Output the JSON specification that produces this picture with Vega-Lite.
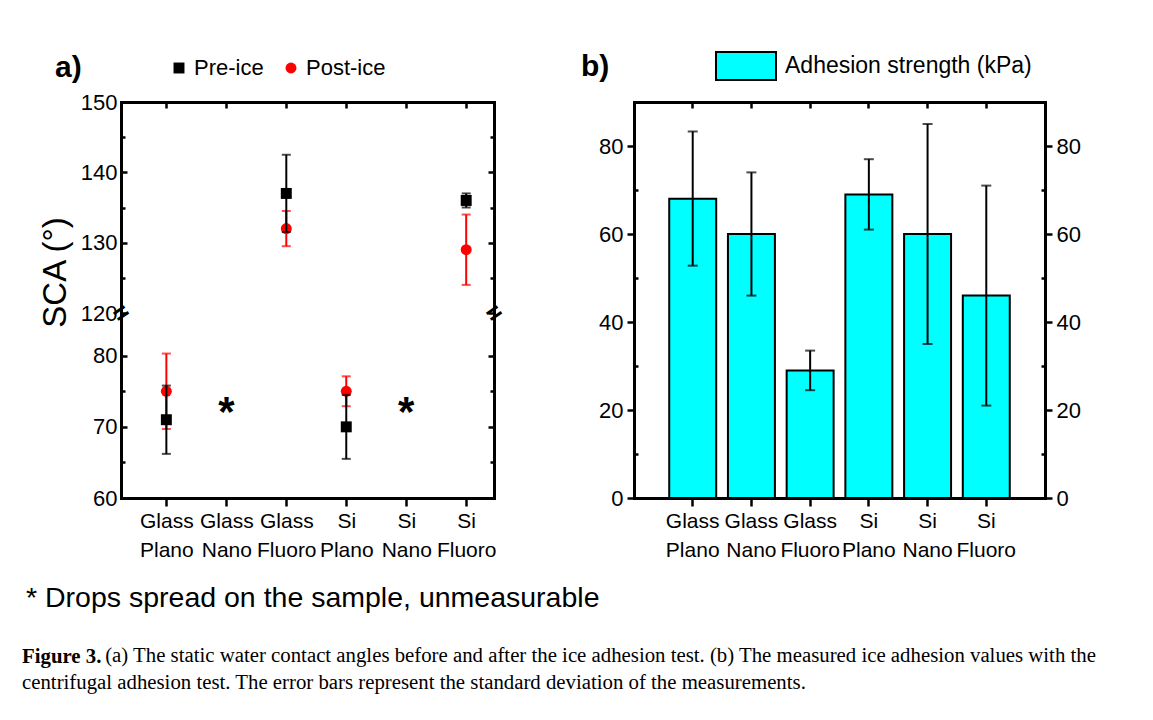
{
  "$schema": "https://vega.github.io/schema/vega-lite/v6.json",
  "background": "white",
  "padding": {"left": 22, "top": 50, "right": 0, "bottom": 0},
  "datasets": {
    "sca": [
      {"sample": "Glass Plano", "condition": "Pre-ice", "value": 71, "lo": 66.2, "hi": 75.8},
      {"sample": "Glass Fluoro", "condition": "Pre-ice", "value": 137, "lo": 131.5, "hi": 142.5},
      {"sample": "Si Plano", "condition": "Pre-ice", "value": 70, "lo": 65.5, "hi": 74.5},
      {"sample": "Si Fluoro", "condition": "Pre-ice", "value": 136, "lo": 135, "hi": 137},
      {"sample": "Glass Plano", "condition": "Post-ice", "value": 75, "lo": 69.7, "hi": 80.3},
      {"sample": "Glass Fluoro", "condition": "Post-ice", "value": 132, "lo": 129.5, "hi": 134.5},
      {"sample": "Si Plano", "condition": "Post-ice", "value": 75, "lo": 72.9, "hi": 77.1},
      {"sample": "Si Fluoro", "condition": "Post-ice", "value": 129, "lo": 124, "hi": 134}
    ],
    "spread": [
      {"sample": "Glass Nano", "value": 73.3},
      {"sample": "Si Nano", "value": 73.3}
    ],
    "adhesion": [
      {"sample": "Glass Plano", "value": 68, "lo": 52.8, "hi": 83.3},
      {"sample": "Glass Nano", "value": 60, "lo": 46, "hi": 74},
      {"sample": "Glass Fluoro", "value": 29, "lo": 24.5, "hi": 33.5},
      {"sample": "Si Plano", "value": 69, "lo": 61, "hi": 77},
      {"sample": "Si Nano", "value": 60, "lo": 35, "hi": 85},
      {"sample": "Si Fluoro", "value": 46, "lo": 21, "hi": 71}
    ]
  },
  "title": {
    "text": "Figure 3.",
    "subtitle": ["\u200b\u00a0\u00a0\u00a0\u00a0\u00a0\u00a0\u00a0\u00a0\u00a0\u00a0\u00a0\u00a0\u00a0\u00a0\u00a0\u00a0(a) The static water contact angles before and after the ice adhesion test. (b) The measured ice adhesion values with the", "centrifugal adhesion test. The error bars represent the standard deviation of the measurements."],
    "orient": "bottom",
    "anchor": "start",
    "frame": "bounds",
    "offset": 34,
    "dx": -4,
    "font": "Liberation Serif",
    "fontSize": 20.8,
    "fontWeight": "bold",
    "color": "#000",
    "subtitleFont": "Liberation Serif",
    "subtitleFontSize": 20.8,
    "subtitleColor": "#000",
    "subtitleLineHeight": 27,
    "subtitlePadding": -21
  },
  "spacing": -19,
  "resolve": {"scale": {"fill": "independent"}, "legend": {"fill": "independent"}},
  "hconcat": [
    {
      "spacing": 0,
      "bounds": "flush",
      "resolve": {"scale": {"color": "independent", "shape": "independent"}},
      "vconcat": [
        {
          "width": 373,
          "height": 211,
          "data": {"name": "sca"},
          "layer": [
            {
              "transform": [{"filter": "datum.value > 100 && datum.condition === 'Post-ice'"}],
              "mark": {"type": "errorbar", "color": "#ff0000", "thickness": 2, "ticks": {"size": 9, "thickness": 2}},
              "encoding": {
                "x": {"field": "sample", "type": "nominal", "scale": {"type": "point", "domain": ["Glass Plano", "Glass Nano", "Glass Fluoro", "Si Plano", "Si Nano", "Si Fluoro"], "padding": 0.61, "align": 0.62}, "axis": {"orient": "top", "labels": false, "title": null, "tickSize": -6, "domainCap": "square"}},
                "y": {"field": "lo", "type": "quantitative", "scale": {"domain": [120, 150], "nice": false, "zero": false}, "axis": {"orient": "left", "values": [120, 125, 130, 135, 140, 145, 150], "labelExpr": "datum.value % 10 === 0 ? datum.label : ''", "title": "SCA (°)", "tickSize": {"condition": {"test": "datum.value % 10 !== 0", "value": -4}, "value": -6}, "labelPadding": 10, "titleFontSize": 33, "titleX": -49, "titleY": 170, "titleAlign": "center", "titleBaseline": "bottom", "domainCap": "square"}},
                "y2": {"field": "hi"}
              }
            },
            {
              "transform": [{"filter": "datum.value > 100"}],
              "mark": {"type": "point", "filled": true, "size": 120, "opacity": 1},
              "encoding": {
                "x": {"field": "sample", "type": "nominal", "scale": {"type": "point", "domain": ["Glass Plano", "Glass Nano", "Glass Fluoro", "Si Plano", "Si Nano", "Si Fluoro"], "padding": 0.61, "align": 0.62}, "axis": null},
                "y": {"field": "value", "type": "quantitative", "scale": {"domain": [120, 150], "nice": false, "zero": false}, "axis": {"orient": "left", "values": [120], "labelExpr": "'='", "ticks": false, "domain": false, "labelPadding": 0, "labelAlign": "center", "labelBaseline": "middle", "labelAngle": -35, "labelFontSize": 26, "labelFontWeight": "bold", "title": null}},
                "color": {"field": "condition", "type": "nominal", "scale": {"domain": ["Pre-ice", "Post-ice"], "range": ["#000000", "#ff0000"]}, "legend": {"orient": "none", "legendX": -66, "legendY": -45, "direction": "horizontal", "title": "a)", "titleOrient": "left", "titleFontSize": 30, "titleFontWeight": "bold", "titlePadding": 86, "labelFontSize": 22, "labelOffset": 4, "columnPadding": 16, "symbolSize": 120, "symbolStrokeWidth": 0}},
                "shape": {"field": "condition", "type": "nominal", "scale": {"domain": ["Pre-ice", "Post-ice"], "range": ["square", "circle"]}, "legend": {"orient": "none", "legendX": -66, "legendY": -45, "direction": "horizontal", "title": "a)", "titleOrient": "left", "titleFontSize": 30, "titleFontWeight": "bold", "titlePadding": 86, "labelFontSize": 22, "labelOffset": 4, "columnPadding": 16, "symbolSize": 120, "symbolStrokeWidth": 0}}
              }
            },
            {
              "transform": [{"filter": "datum.value > 100 && datum.condition === 'Pre-ice'"}],
              "mark": {"type": "errorbar", "color": "#000000", "thickness": 2, "ticks": {"size": 9, "thickness": 2}},
              "encoding": {
                "x": {"field": "sample", "type": "nominal", "scale": {"type": "point", "domain": ["Glass Plano", "Glass Nano", "Glass Fluoro", "Si Plano", "Si Nano", "Si Fluoro"], "padding": 0.61, "align": 0.62}, "axis": null},
                "y": {"field": "lo", "type": "quantitative", "scale": {"domain": [120, 150], "nice": false, "zero": false}, "axis": {"orient": "right", "values": [120, 125, 130, 135, 140, 145, 150], "labels": false, "title": null, "tickSize": {"condition": {"test": "datum.value % 10 !== 0", "value": -4}, "value": -6}, "domainCap": "square"}},
                "y2": {"field": "hi"}
              }
            }
          ],
          "resolve": {"axis": {"x": "independent", "y": "independent"}}
        },
        {
          "width": 373,
          "height": 185,
          "title": {"text": "* Drops spread on the sample, unmeasurable", "orient": "bottom", "anchor": "start", "frame": "group", "dx": -95, "offset": 24, "fontSize": 28.5, "fontWeight": "normal", "font": "Liberation Sans", "color": "#000"},
          "layer": [
            {
              "data": {"name": "sca"},
              "transform": [{"filter": "datum.value < 100 && datum.condition === 'Post-ice'"}],
              "mark": {"type": "errorbar", "color": "#ff0000", "thickness": 2, "ticks": {"size": 9, "thickness": 2}},
              "encoding": {
                "x": {"field": "sample", "type": "nominal", "scale": {"type": "point", "domain": ["Glass Plano", "Glass Nano", "Glass Fluoro", "Si Plano", "Si Nano", "Si Fluoro"], "padding": 0.61, "align": 0.62}, "axis": {"orient": "bottom", "title": null, "labelExpr": "split(datum.label, ' ')", "labelFontSize": 21, "labelLineHeight": 29, "labelAngle": 0, "labelBaseline": "top", "tickSize": 8, "labelPadding": 4, "domainCap": "square"}},
                "y": {"field": "lo", "type": "quantitative", "scale": {"domain": [60, 86], "nice": false, "zero": false}, "axis": {"orient": "left", "values": [60, 65, 70, 75, 80], "labelExpr": "datum.value % 10 === 0 ? datum.label : ''", "title": null, "tickSize": {"condition": {"test": "datum.value % 10 !== 0", "value": -4}, "value": -6}, "labelPadding": 10, "domainCap": "square"}},
                "y2": {"field": "hi"}
              }
            },
            {
              "data": {"name": "sca"},
              "transform": [{"filter": "datum.value < 100"}],
              "mark": {"type": "point", "filled": true, "size": 120, "opacity": 1},
              "encoding": {
                "x": {"field": "sample", "type": "nominal", "scale": {"type": "point", "domain": ["Glass Plano", "Glass Nano", "Glass Fluoro", "Si Plano", "Si Nano", "Si Fluoro"], "padding": 0.61, "align": 0.62}, "axis": null},
                "y": {"field": "value", "type": "quantitative", "scale": {"domain": [60, 86], "nice": false, "zero": false}, "axis": {"orient": "right", "values": [60, 65, 70, 75, 80], "labels": false, "title": null, "tickSize": {"condition": {"test": "datum.value % 10 !== 0", "value": -4}, "value": -6}, "domainCap": "square"}},
                "color": {"field": "condition", "type": "nominal", "scale": {"domain": ["Pre-ice", "Post-ice"], "range": ["#000000", "#ff0000"]}, "legend": null},
                "shape": {"field": "condition", "type": "nominal", "scale": {"domain": ["Pre-ice", "Post-ice"], "range": ["square", "circle"]}, "legend": null}
              }
            },
            {
              "data": {"name": "sca"},
              "transform": [{"filter": "datum.value < 100 && datum.condition === 'Pre-ice'"}],
              "mark": {"type": "errorbar", "color": "#000000", "thickness": 2, "ticks": {"size": 9, "thickness": 2}},
              "encoding": {
                "x": {"field": "sample", "type": "nominal", "scale": {"type": "point", "domain": ["Glass Plano", "Glass Nano", "Glass Fluoro", "Si Plano", "Si Nano", "Si Fluoro"], "padding": 0.61, "align": 0.62}, "axis": null},
                "y": {"field": "lo", "type": "quantitative", "scale": {"domain": [60, 86], "nice": false, "zero": false}, "axis": {"orient": "right", "values": [86], "labelExpr": "'='", "ticks": false, "domain": false, "labelPadding": 0, "labelAlign": "center", "labelBaseline": "middle", "labelAngle": -35, "labelFontSize": 26, "labelFontWeight": "bold", "title": null}},
                "y2": {"field": "hi"}
              }
            },
            {
              "data": {"name": "spread"},
              "mark": {"type": "text", "text": "*", "fontSize": 42, "fontWeight": "bold", "baseline": "middle", "dy": 10, "color": "#000"},
              "encoding": {
                "x": {"field": "sample", "type": "nominal", "scale": {"type": "point", "domain": ["Glass Plano", "Glass Nano", "Glass Fluoro", "Si Plano", "Si Nano", "Si Fluoro"], "padding": 0.61, "align": 0.62}, "axis": null},
                "y": {"field": "value", "type": "quantitative", "scale": {"domain": [60, 86], "nice": false, "zero": false}, "axis": null}
              }
            }
          ],
          "resolve": {"axis": {"x": "independent", "y": "independent"}}
        }
      ]
    },
    {
      "width": 411,
      "height": 396,
      "data": {"name": "adhesion"},
      "layer": [
        {
          "mark": {"type": "bar", "stroke": "#000", "strokeWidth": 2},
          "encoding": {
            "x": {"field": "sample", "type": "nominal", "scale": {"type": "band", "domain": ["Glass Plano", "Glass Nano", "Glass Fluoro", "Si Plano", "Si Nano", "Si Fluoro"], "paddingInner": 0.2, "paddingOuter": 0.6}, "axis": {"orient": "bottom", "title": null, "labelExpr": "split(datum.label, ' ')", "labelFontSize": 21, "labelLineHeight": 29, "labelAngle": 0, "labelBaseline": "top", "tickSize": 8, "labelPadding": 4, "domainCap": "square"}},
            "y": {"field": "value", "type": "quantitative", "scale": {"domain": [0, 90], "nice": false}, "axis": {"orient": "left", "values": [0, 10, 20, 30, 40, 50, 60, 70, 80], "labelExpr": "datum.value % 20 === 0 ? datum.label : ''", "title": null, "tickSize": {"condition": {"test": "datum.value % 20 !== 0", "value": -4}, "value": 7}, "labelPadding": 4, "domainCap": "square"}},
            "fill": {"datum": "Adhesion strength (kPa)", "type": "nominal", "scale": {"range": ["#00ffff"]}, "legend": {"orient": "none", "legendX": -53, "legendY": -52, "direction": "horizontal", "title": "b)", "titleOrient": "left", "titleFontSize": 30, "titleFontWeight": "bold", "titlePadding": 120, "labelFontSize": 23, "labelOffset": 23, "labelLimit": 400, "symbolType": "M-2,-0.93H2V0.93H-2Z", "symbolSize": 900, "symbolStrokeColor": "#000", "symbolStrokeWidth": 2}}
          }
        },
        {
          "mark": {"type": "errorbar", "color": "#000", "thickness": 2, "ticks": {"size": 10, "thickness": 2}},
          "encoding": {
            "x": {"field": "sample", "type": "nominal", "scale": {"type": "band", "domain": ["Glass Plano", "Glass Nano", "Glass Fluoro", "Si Plano", "Si Nano", "Si Fluoro"], "paddingInner": 0.2, "paddingOuter": 0.6}, "axis": {"orient": "top", "labels": false, "title": null, "tickSize": -6, "domainCap": "square"}},
            "y": {"field": "lo", "type": "quantitative", "scale": {"domain": [0, 90], "nice": false}, "axis": {"orient": "right", "values": [0, 10, 20, 30, 40, 50, 60, 70, 80], "labelExpr": "datum.value % 20 === 0 ? datum.label : ''", "title": null, "tickSize": {"condition": {"test": "datum.value % 20 !== 0", "value": -4}, "value": 7}, "labelPadding": 4, "domainCap": "square"}},
            "y2": {"field": "hi"}
          }
        }
      ],
      "resolve": {"axis": {"x": "independent", "y": "independent"}}
    }
  ],
  "config": {
    "font": "Liberation Sans",
    "view": {"stroke": null},
    "axis": {"domainColor": "#000", "domainWidth": 3, "tickColor": "#000", "tickWidth": 2.5, "labelColor": "#000", "labelFont": "Liberation Sans", "labelFontSize": 22, "grid": false, "titleColor": "#000", "titleFont": "Liberation Sans", "titleFontWeight": "normal", "labelOverlap": false},
    "legend": {"labelFont": "Liberation Sans", "titleFont": "Liberation Sans", "labelColor": "#000", "titleColor": "#000"}
  }
}
